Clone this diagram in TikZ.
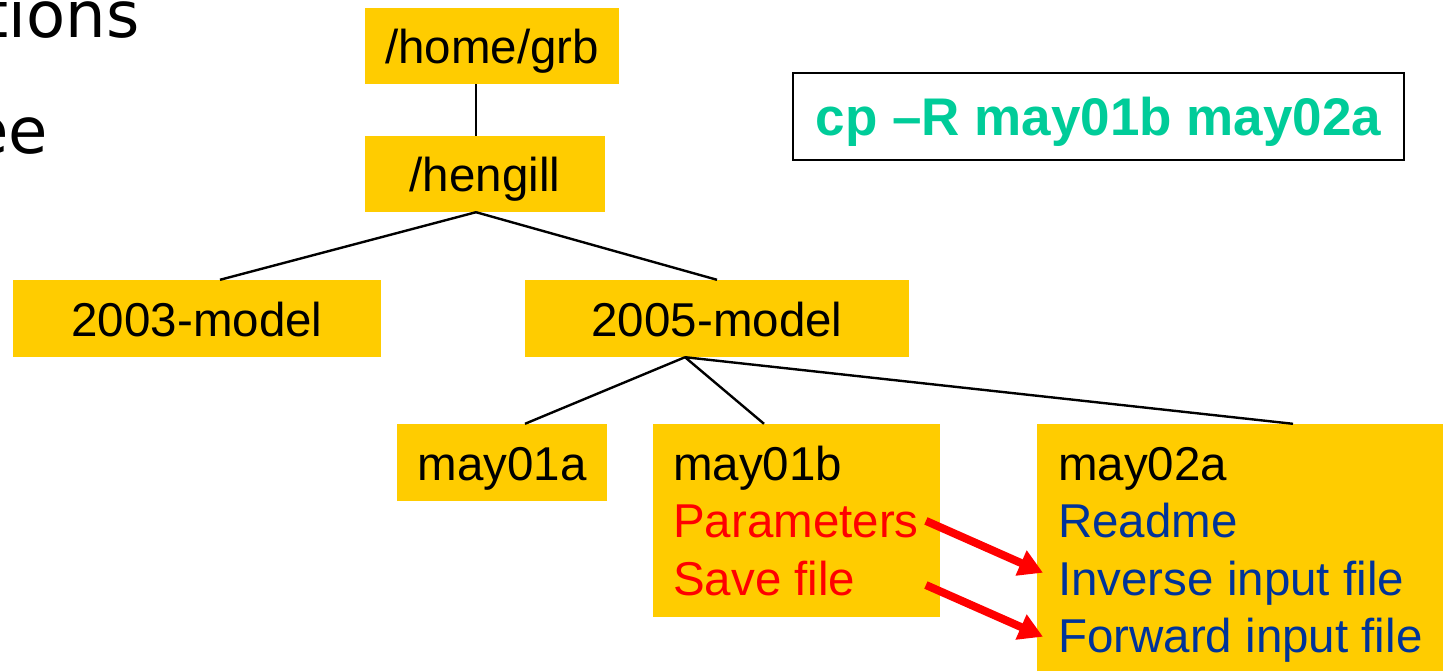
\documentclass[tikz,border=0pt]{standalone}
\usepackage{fontspec}
\setmainfont{Liberation Sans}
\newfontfamily\fragfont{DejaVu Sans}
\usetikzlibrary{arrows.meta,calc}
\definecolor{boxyellow}{HTML}{FFCC00}
\definecolor{cpgreen}{HTML}{00CC99}
\definecolor{fileblue}{HTML}{003399}
\definecolor{filered}{HTML}{FF0000}
\tikzset{
  dirbox/.style={fill=boxyellow, inner sep=0pt, text height=35.4pt, text depth=0pt,
    font=\fontsize{47.5}{57}\selectfont},
  filebox/.style={fill=boxyellow, inner sep=0pt},
  treeline/.style={line width=2.4pt, black},
  fileline/.style={anchor=base west, inner sep=0pt, font=\fontsize{47.5}{57}\selectfont},
  fragtext/.style={anchor=base east, inner sep=0pt, font=\fragfont\fontsize{64}{76}\selectfont},
  copyarrow/.style={line width=8pt, filered, -{Triangle[length=24pt,width=26pt]}},
}
\begin{document}
\begin{tikzpicture}[x=1pt,y=-1pt]
\clip (0,0) rectangle (1448,671);
\fill[white] (0,0) rectangle (1448,671);

% cropped slide text
\node[fragtext] (frag1) at (140,38) {tions};
\node[fragtext] (frag2) at (48,154) {ee};

% directory boxes
\node[dirbox, minimum width=254pt, minimum height=76pt] (home) at (492,46) {/home/grb};
\node[dirbox, minimum width=240pt, minimum height=76pt] (hengill) at (485,174) {/hengill};
\node[dirbox, minimum width=368pt, minimum height=77pt] (m2003) at (197,318.5) {2003-model};
\node[dirbox, minimum width=384pt, minimum height=77pt] (m2005) at (717,318.5) {2005-model};
\node[dirbox, minimum width=210pt, minimum height=77pt] (may01a) at (502,462.5) {may01a};
\node[filebox, minimum width=287pt, minimum height=193pt] (may01b) at (796.5,520.5) {};
\node[filebox, minimum width=406pt, minimum height=247pt] (may02a) at (1240,547.5) {};

% contents of may01b
\node[fileline] (b0) at (673,480) {may01b};
\node[fileline, text=filered] (params) at (673,537) {Parameters};
\node[fileline, text=filered] (save) at (673,595) {Save file};

% contents of may02a
\node[fileline] (a0) at (1058,480) {may02a};
\node[fileline, text=fileblue] (readme) at (1058,537) {Readme};
\node[fileline, text=fileblue] (inverse) at (1058,595) {Inverse input file};
\node[fileline, text=fileblue] (forward) at (1058,652) {Forward input file};

% command box
\node[draw=black, line width=2.5pt, minimum width=611pt, minimum height=87pt, inner sep=0pt,
  text height=39pt, text depth=0pt, text=cpgreen,
  font=\fontsize{53}{63}\selectfont\bfseries] (cp) at (1098.5,116.5) {cp –R may01b may02a};

% tree connectors
\draw[treeline] ([xshift=-16pt]home.south) -- ([xshift=-9pt]hengill.north);
\draw[treeline] ([xshift=-9pt]hengill.south) -- ([xshift=23pt]m2003.north);
\draw[treeline] ([xshift=-9pt]hengill.south) -- (m2005.north);
\draw[treeline] ([xshift=-32pt]m2005.south) -- ([xshift=23pt]may01a.north);
\draw[treeline] ([xshift=-32pt]m2005.south) -- ([xshift=-32.5pt]may01b.north);
\draw[treeline] ([xshift=-32pt]m2005.south) -- ([xshift=53pt]may02a.north);

% copy arrows
\draw[copyarrow] ($(params.east)+(7,0)$) -- ($(inverse.west)+(-15,-10)$);
\draw[copyarrow] ($(save.east -| params.east)+(7,7)$) -- ($(forward.west)+(-15,-3)$);
\end{tikzpicture}
\end{document}
